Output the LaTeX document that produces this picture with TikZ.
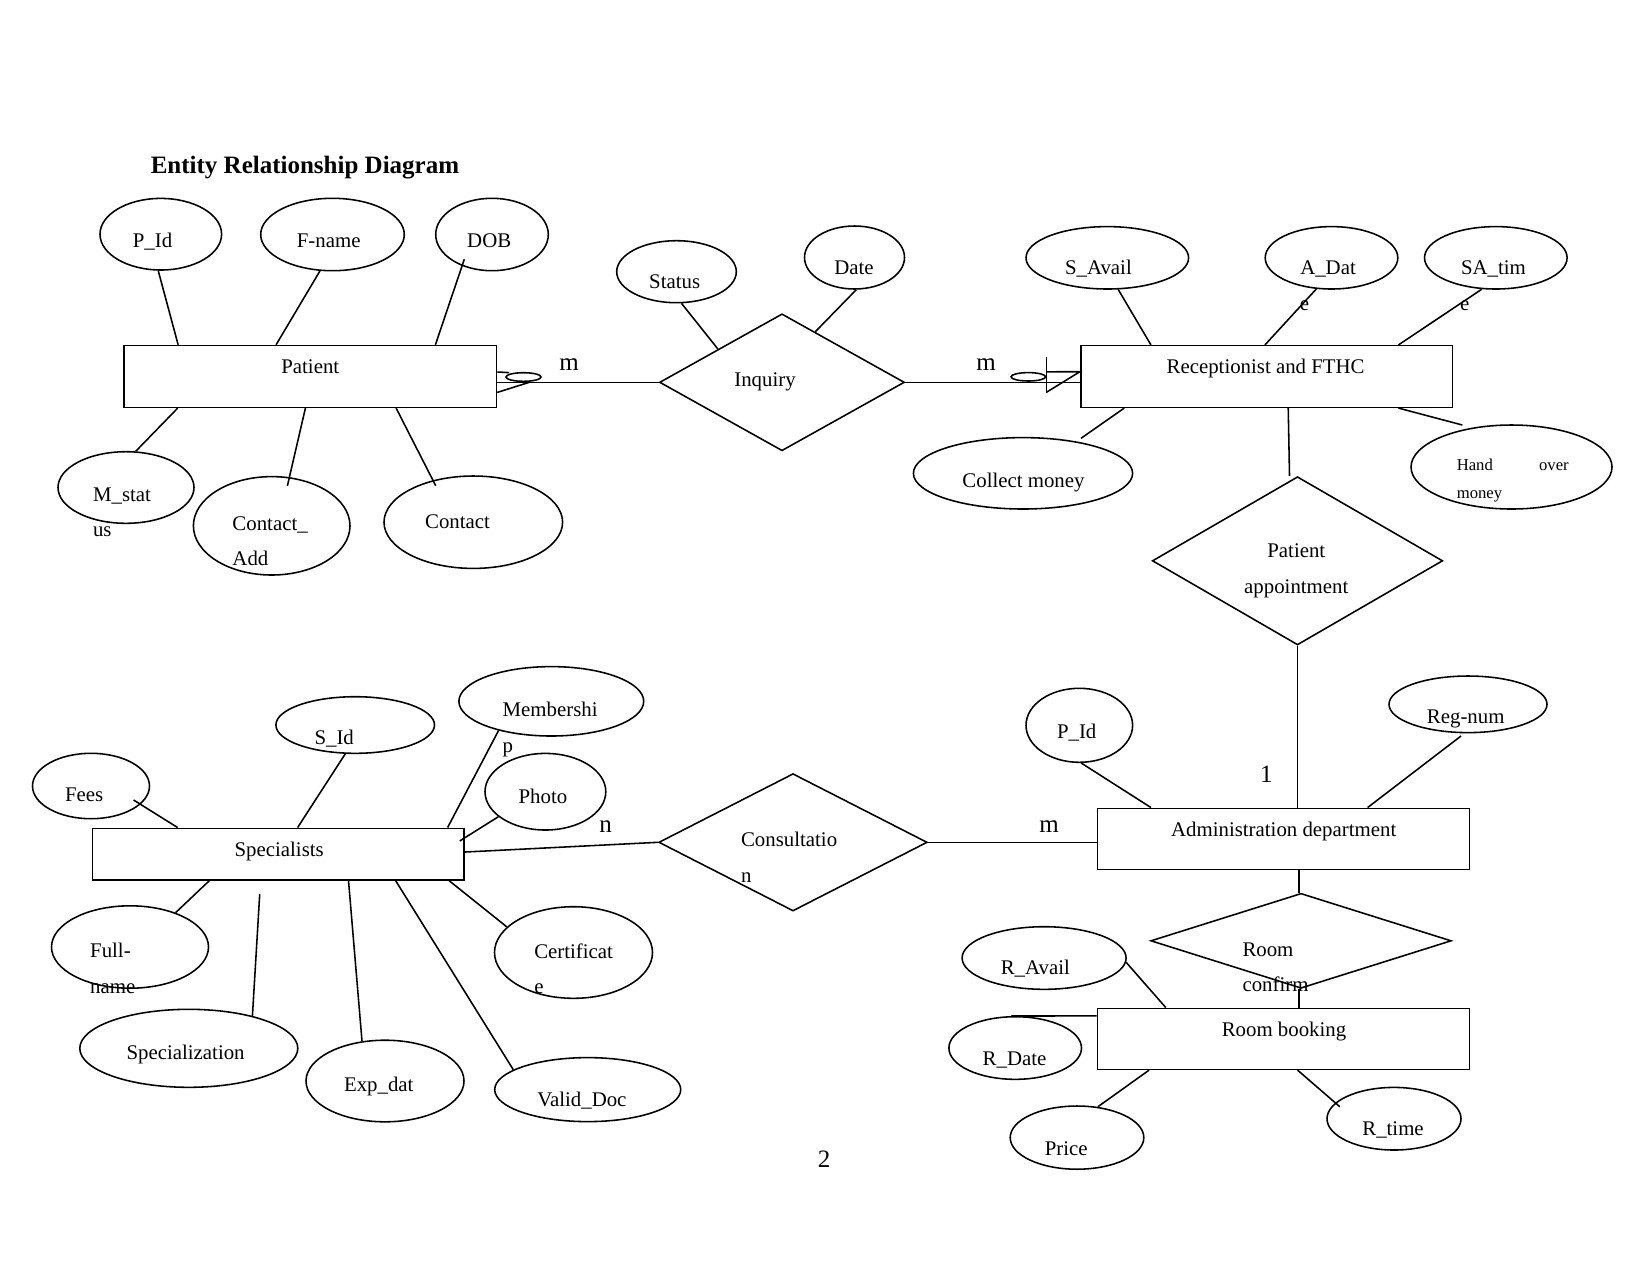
\documentclass[tikz,border=0pt]{standalone}
\usepackage{fontspec}
\setmainfont{Liberation Serif}
\usetikzlibrary{shapes.geometric,calc}
\begin{document}
\begin{tikzpicture}[x=0.48pt,y=-0.48pt,line width=0.75pt,
  ent/.style n args={2}{draw,rectangle,inner sep=0pt,minimum width=#1*0.48pt,minimum height=#2*0.48pt},
  att/.style n args={2}{draw,ellipse,inner sep=0pt,minimum width=#1*0.96pt,minimum height=#2*0.96pt},
  rel/.style n args={2}{draw,diamond,inner sep=0pt,minimum width=#1*0.48pt,minimum height=#2*0.48pt},
  txt/.style={inner sep=0pt,anchor=base,font=\fontsize{10}{12}\selectfont},
  txtl/.style={txt,anchor=base west},
  small/.style={inner sep=0pt,anchor=base west,font=\fontsize{8}{10}\selectfont},
  card/.style={inner sep=0pt,anchor=base,font=\fontsize{12}{14}\selectfont},
  cfoot/.style n args={2}{draw,ellipse,inner sep=0pt,minimum width=#1*0.48pt,minimum height=#2*0.48pt}
]
\path[use as bounding box] (0,0) rectangle (1650,1275);

\node[anchor=base west,inner sep=0pt,font=\fontsize{12}{14}\selectfont\bfseries] (title) at (150,173.3) {Entity Relationship Diagram};

% entities
\node[ent={372.3}{61.8}] (patient) at (310.35,376.4) {};
\node[txt] (patientT) at (310.3,373.3) {Patient};
\node[ent={371.8}{61.6}] (rec) at (1266.6,376.5) {};
\node[txt] (recT) at (1265.6,373.3) {Receptionist and FTHC};
\node[ent={371.9}{61}] (admin) at (1283.35,838.8) {};
\node[txt] (adminT) at (1283.7,836.7) {Administration department};
\node[ent={371.8}{61}] (rb) at (1283.4,1038.8) {};
\node[txt] (rbT) at (1284,1036.7) {Room booking};
\node[ent={371.6}{51.7}] (spec) at (278.2,854.15) {};
\node[txt] (specT) at (279.2,856.7) {Specialists};

% relationships
\node[rel={244.9}{137}] (inq) at (782,382.3) {};
\node[txt] (inqT) at (765,386.7) {Inquiry};
\node[rel={290.4}{168.3}] (pa) at (1297.5,560.8) {};
\node[txt] (paT1) at (1296.3,557.7) {Patient};
\node[txt] (paT2) at (1296.3,593.3) {appointment};
\node[rel={268.5}{137.4}] (cons) at (793,842.3) {};
\node[txtl] (consT1) at (740.3,846.7) {Consultatio};
\node[txtl] (consT2) at (740.3,882.3) {n};
\node[rel={300.6}{95}] (rc) at (1301,940.8) {};
\node[txtl] (rcT1) at (1241.7,956) {Room};
\node[txtl] (rcT2) at (1241.7,991.7) {confirm};

% patient attributes
\node[att={60.8}{35.8}] (pid) at (160.8,234.2) {};
\node[txt] (pidT) at (152.5,247.3) {P\_Id};
\node[att={71.8}{36.2}] (fname) at (332.5,234.5) {};
\node[txt] (fnameT) at (328.7,247.3) {F-name};
\node[att={56.3}{36.2}] (dob) at (492,234.5) {};
\node[txt] (dobT) at (489.2,247.3) {DOB};
\node[att={68}{35.8}] (mstat) at (126,487.5) {};
\node[txtl] (mstatT1) at (92.3,501.7) {M\_stat};
\node[txtl] (mstatT2) at (92.3,536) {us};
\node[att={78.3}{49.2}] (cadd) at (271.7,525.8) {};
\node[txtl] (caddT1) at (231.7,530) {Contact\_};
\node[txtl] (caddT2) at (231.7,565) {Add};
\node[att={89.3}{46.2}] (contact) at (473.3,522.2) {};
\node[txt] (contactT) at (457.5,528.3) {Contact};

% inquiry attributes
\node[att={59.8}{31}] (status) at (676.5,271.7) {};
\node[txt] (statusT) at (674.7,288.3) {Status};
\node[att={50}{31.5}] (date) at (854.5,257.5) {};
\node[txt] (dateT) at (853.9,274.3) {Date};

% receptionist attributes
\node[att={81.3}{31.2}] (savail) at (1107.3,257.8) {};
\node[txt] (savailT) at (1098.4,274.3) {S\_Avail};
\node[att={66.3}{31.2}] (adat) at (1331.5,257.8) {};
\node[txt] (adatT1) at (1328,274.3) {A\_Dat};
\node[txt] (adatT2) at (1304.4,310) {e};
\node[att={71.3}{31.2}] (satim) at (1495.8,257.8) {};
\node[txt] (satimT1) at (1493.4,274.3) {SA\_tim};
\node[txt] (satimT2) at (1464.7,310.5) {e};
\node[att={109.6}{35.7}] (cm) at (1023,473.3) {};
\node[txt] (cmT) at (1023.5,487.3) {Collect money};
\node[att={100.5}{42}] (hom) at (1511.5,467) {};
\node[small] (homT1) at (1456,470) {Hand};
\node[small] (homT2) at (1538.3,470) {over};
\node[small] (homT3) at (1456,498.3) {money};

% administration attributes
\node[att={53.3}{37}] (pid2) at (1079.3,725.3) {};
\node[txt] (pid2T) at (1076.7,738.3) {P\_Id};
\node[att={79}{28.3}] (reg) at (1468,704.3) {};
\node[txt] (regT) at (1465.7,723.3) {Reg-num};

% room booking attributes
\node[att={82}{31.3}] (ravail) at (1044.1,958) {};
\node[txt] (ravailT) at (1035.3,974) {R\_Avail};
\node[att={66.3}{31.3}] (rdate) at (1015.2,1048) {};
\node[txt] (rdateT) at (1014.5,1065.7) {R\_Date};
\node[att={66.8}{31.6}] (price) at (1077,1137.6) {};
\node[txt] (priceT) at (1066.2,1155.7) {Price};
\node[att={67}{31.3}] (rtime) at (1394,1118.7) {};
\node[txt] (rtimeT) at (1393,1135.7) {R\_time};

% specialists attributes
\node[att={58.5}{32.7}] (fees) at (91,786) {};
\node[txt] (feesT) at (84.2,801.3) {Fees};
\node[att={79.3}{28.3}] (sid) at (355.2,725) {};
\node[txt] (sidT) at (334.2,744.3) {S\_Id};
\node[att={92.4}{34.7}] (memb) at (551.3,701.3) {};
\node[txtl] (membT1) at (501.9,716.7) {Membershi};
\node[txtl] (membT2) at (501.9,752) {p};
\node[att={60.4}{38.3}] (photo) at (545.4,791.7) {};
\node[txt] (photoT) at (542.9,803.3) {Photo};
\node[att={78.5}{41.2}] (fullname) at (130,947) {};
\node[txtl] (fullnameT1) at (89.4,957.3) {Full-};
\node[txtl] (fullnameT2) at (89.4,993.3) {name};
\node[att={109}{39}] (spz) at (188.8,1048.3) {};
\node[txt] (spzT) at (185.6,1059.3) {Specialization};
\node[att={79}{40.8}] (expd) at (385,1081) {};
\node[txt] (expdT) at (378.8,1091.7) {Exp\_dat};
\node[att={93}{32}] (vdoc) at (587.7,1089.6) {};
\node[txt] (vdocT) at (581.9,1106.7) {Valid\_Doc};
\node[att={79}{45.8}] (cert) at (573.5,952.5) {};
\node[txtl] (certT1) at (533.5,958.3) {Certificat};
\node[txtl] (certT2) at (533.5,993.3) {e};

% cardinalities and page number
\node[card] (m1) at (569,370) {m};
\node[card] (m2) at (986,370) {m};
\node[card] (one) at (1266.4,782.7) {1};
\node[card] (n1) at (605.7,832.7) {n};
\node[card] (m3) at (1049,832.3) {m};
\node[card] (pg) at (824,1167) {2};

% patient connectors
\draw (pid.-94) -- ($(patient.north west)+(54.7,0)$);
\draw (fname.-109) -- ($(patient.north west)+(152.7,0)$);
\draw ($(dob.center)+(-27.7,24.8)$) -- ($(patient.north west)+(312,0)$);
\draw ($(patient.south west)+(54.3,0)$) -- (mstat.75);
\draw ($(patient.south west)+(182,0)$) -- ($(cadd.center)+(15.7,-40)$);
\draw ($(patient.south west)+(272.7,0)$) -- ($(contact.center)+(-37.6,-36.5)$);

% patient - inquiry with crow's foot
\node[cfoot={35}{8.6}] (cf1) at (523.5,377) {};
\draw (inq.west) -- (inq.west -| patient.east);
\draw ($(patient.east)+(0,-4.4)$) -- ($(cf1.west)+(4,-4.4)$);
\draw ($(patient.east)+(0,16)$) -- ($(cf1.south)+(6.5,0)$);

% inquiry attributes
\draw (status.-81) -- ($(inq.west)!0.48!(inq.north)$);
\draw (date.-87) -- ($(inq.north)!0.27!(inq.east)$);

% inquiry - receptionist
\node[cfoot={34.6}{8.4}] (cf2) at (1028.3,376.8) {};
\draw (inq.east) -- (inq.east -| rec.west);
\draw ($(cf2.east)+(0,-19.5)$) -- ($(cf2.east)+(0,16.5)$);
\draw ($(cf2.east)+(0,15.5)$) -- ($(rec.west)+(0,-4.8)$) -- ($(cf2.east)+(0,-5)$);

% receptionist connectors
\draw (savail.-71) -- ($(rec.north west)+(71,0)$);
\draw (adat.-116) -- ($(rec.north west)+(185,0)$);
\draw (satim.-114) -- ($(rec.north west)+(318.5,0)$);
\draw ($(rec.south west)+(44.3,0)$) -- ($(cm.center)+(58,-35)$);
\draw ($(rec.south west)+(318.5,0)$) -- ($(hom.center)+(-49.2,-42)$);
\draw ($(rec.south west)+(208.3,0)$) -- ($(pa.north)+(-8,0)$);
\draw (pa.south) -- (pa.south |- admin.north);

% administration connectors
\draw (pid2.-87) -- ($(admin.north west)+(54.3,0)$);
\draw ($(reg.center)+(-7,31.7)$) -- ($(admin.north west)+(271,0)$);
\draw (cons.east) -- (cons.east -| admin.west);
\draw ($(spec.north east)+(0,24.5)$) -- (cons.west);
\draw ($(rc.north |- admin.south)+(-2,0)$) -- ($(rc.north)+(-2,0)$);
\draw ($(rc.south)+(-2,0)$) -- ($(rc.south |- rb.north)+(-2,0)$);

% room booking connectors
\draw (ravail.-3) -- ($(rb.north west)+(69,0)$);
\draw (rdate.97) -- ($(rb.north west)+(0,8.4)$);
\draw ($(rb.south west)+(52.4,0)$) -- (price.56);
\draw ($(rb.south west)+(200.8,0)$) -- ($(rtime.center)+(-54.2,-12)$);

% specialists connectors
\draw ($(fees.center)+(42.6,14)$) -- ($(spec.north west)+(86,0)$);
\draw (sid.-109) -- ($(spec.north west)+(206,0)$);
\draw (memb.-151) -- ($(spec.north west)+(356,0)$);
\draw (photo.-152) -- ($(spec.north east)+(-5,13.4)$);
\draw ($(spec.south west)+(117.6,0)$) -- (fullname.37);
\draw ($(spec.south west)+(168.1,13.3)$) -- (spz.27);
\draw ($(spec.south west)+(256.9,0)$) -- (expd.120);
\draw ($(spec.south west)+(304.1,0)$) -- (vdoc.165);
\draw ($(spec.south east)+(-15.5,0)$) -- (cert.159);
\end{tikzpicture}
\end{document}
